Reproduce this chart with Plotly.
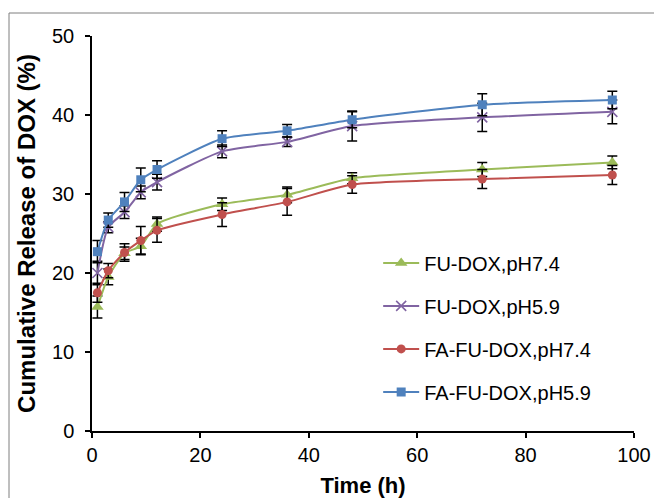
import plotly.graph_objects as go

time_h = [1, 3, 6, 9, 12, 24, 36, 48, 72, 96]

fu_74 = [15.7, 19.5, 22.5, 23.4, 26.2, 28.7, 29.9, 32.0, 33.1, 34.0]
fu_74_err = [1.4, 1.0, 0.8, 1.0, 0.9, 0.8, 1.0, 0.7, 0.9, 0.8]

fu_59 = [20.0, 25.8, 27.7, 30.2, 31.5, 35.4, 36.6, 38.6, 39.7, 40.4]
fu_59_err = [1.5, 0.7, 0.8, 0.8, 1.0, 0.8, 0.6, 1.9, 1.8, 1.5]

fafu_74 = [17.5, 20.3, 22.6, 24.1, 25.4, 27.4, 29.0, 31.2, 31.9, 32.4]
fafu_74_err = [1.2, 0.9, 1.1, 1.8, 1.5, 1.5, 1.7, 1.1, 1.2, 1.2]

fafu_59 = [22.7, 26.7, 29.0, 31.8, 33.1, 37.0, 38.0, 39.4, 41.3, 41.9]
fafu_59_err = [1.4, 0.9, 1.2, 1.5, 1.1, 1.0, 0.8, 1.0, 1.4, 1.1]

names = ["FU-DOX,pH7.4", "FU-DOX,pH5.9", "FA-FU-DOX,pH7.4", "FA-FU-DOX,pH5.9"]
colors = ["#9BBB59", "#8064A2", "#C0504D", "#4F81BD"]
symbols = ["triangle-up", "x-thin", "circle", "square"]
sizes = [11, 10, 9, 9]

series = [(fu_74, fu_74_err), (fu_59, fu_59_err), (fafu_74, fafu_74_err), (fafu_59, fafu_59_err)]

fig = go.Figure()
for i, ((vals, errs), name, col, sym, sz) in enumerate(zip(series, names, colors, symbols, sizes)):
    marker = dict(symbol=sym, size=sz, color=col)
    if sym == "x-thin":
        marker["line"] = dict(color=col, width=1.6)
    fig.add_trace(go.Scatter(
        x=time_h, y=vals, name=name, mode="lines+markers",
        line=dict(color=col, width=2, shape="spline", smoothing=0.6),
        marker=marker,
        error_y=dict(type="data", array=errs, visible=True, color="black", thickness=1.5, width=5),
        legendgroup=f"g{i}",
    ))

font_family = "Liberation Sans, Arial, sans-serif"

fig.update_layout(
    width=654, height=498,
    margin=dict(l=92, r=20, t=36, b=67),
    paper_bgcolor="white", plot_bgcolor="white",
    font=dict(family=font_family, size=20, color="black"),
    showlegend=True,
    legend=dict(
        x=0.528, y=0.475, xanchor="left", yanchor="top",
        font=dict(family=font_family, size=20, color="black"),
        tracegroupgap=14, bgcolor="rgba(0,0,0,0)", itemwidth=36,
    ),
    xaxis=dict(
        range=[0, 100], tickvals=[0, 20, 40, 60, 80, 100],
        showline=True, linecolor="black", linewidth=1.5,
        ticks="outside", ticklen=5, tickcolor="black", tickwidth=1.5,
        showgrid=False, zeroline=False, automargin=False,
        tickfont=dict(family=font_family, size=20),
        title=dict(text="<b>Time (h)</b>", font=dict(family=font_family, size=22), standoff=14),
    ),
    yaxis=dict(
        range=[0, 50], tickvals=[0, 10, 20, 30, 40, 50],
        showline=True, linecolor="black", linewidth=1.5,
        ticks="outside", ticklen=5, tickcolor="black", tickwidth=1.5,
        showgrid=False, zeroline=False, automargin=False,
        ticklabelstandoff=7,
        tickfont=dict(family=font_family, size=20),
        title=dict(text="<b>Cumulative Release of DOX (%)</b>", font=dict(family=font_family, size=24), standoff=10),
    ),
    shapes=[dict(
        type="rect", xref="paper", yref="paper",
        x0=(9 - 92) / 542, x1=1.2, y0=-0.3, y1=(431 - 13) / 395,
        line=dict(color="#7f7f7f", width=1), layer="below",
    )],
)

fig.write_html(
    "out.html",
    config={"displayModeBar": False},
    post_script="document.body.style.margin='0';document.body.style.overflow='hidden';",
)
